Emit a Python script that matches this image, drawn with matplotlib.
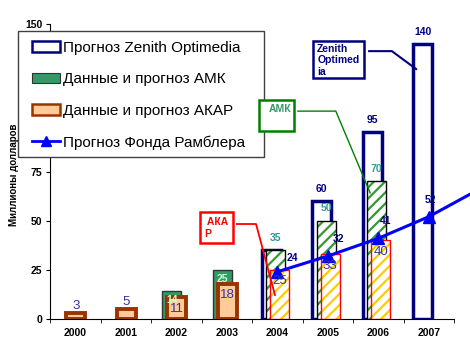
import numpy as np
import matplotlib
matplotlib.use("Agg")
import matplotlib.pyplot as plt
from matplotlib.patches import Rectangle, Patch
from matplotlib.lines import Line2D

plt.rcParams['font.family'] = ['Liberation Sans', 'DejaVu Sans']
plt.rcParams['hatch.linewidth'] = 1.6

# --- data (млн долларов) ---
years = ['2000', '2001', '2002', '2003', '2004', '2005', '2006', '2007']
nan = np.nan
zenith = [nan, nan, nan, nan, 35, 60, 95, 140]
zenith_labeled = [False, False, False, False, False, True, True, True]
amk_fact = [nan, nan, 14, 25, nan, nan, nan, nan]
amk_prog = [nan, nan, nan, nan, 35, 50, 70, nan]
akar_fact = [3, 5, 11, 18, nan, nan, nan, nan]
akar_prog = [nan, nan, nan, nan, 25, 33, 40, nan]
rambler = [nan, nan, nan, nan, 24, 32, 41, 52]
rambler_2008 = 66  # line continues past the right edge

# label offsets for the Rambler points (points)
rambler_offsets = [(11, 10), (7.5, 12), (5, 12.5), (1, 12)]

NAVY = '#000080'
BLUE = '#0000FF'
GREEN = '#339966'
TEAL = '#339999'
LABEL_BLUE = '#333399'

fig = plt.figure(figsize=(4.7, 3.55), dpi=100)
ax = fig.add_axes([50 / 470, 36 / 355, 404 / 470, 295 / 355])

x = np.arange(len(years))
w = 0.38


def bars(values, offset, **kw):
    v = np.array(values, dtype=float)
    m = ~np.isnan(v)
    return ax.bar(x[m] + offset, v[m], w, **kw), x[m] + offset, v[m]


def hatched(values, offset, hatch_color, edge, z):
    bars(values, offset, facecolor='white', edgecolor=hatch_color,
         linewidth=0, hatch='///', zorder=z)
    return bars(values, offset, fill=False, edgecolor=edge, linewidth=1,
                zorder=z + 0.1)


_, zx, zv = bars(zenith, -0.12, facecolor='white', edgecolor=NAVY,
                 linewidth=2.5, zorder=2)
_, afx, afv = bars(amk_fact, -0.09, facecolor=GREEN, edgecolor='#333333',
                   linewidth=1, zorder=3)
_, apx, apv = hatched(amk_prog, -0.03, '#339933', 'black', 3)
_, kfx, kfv = bars(akar_fact, 0.01, facecolor='#FFCC99', edgecolor='#993300',
                   linewidth=2.8, zorder=4)
_, kpx, kpv = hatched(akar_prog, 0.05, '#FFCC00', '#FF0000', 4)

# Rambler forecast line
r = np.array(rambler, dtype=float)
rm = ~np.isnan(r)
rx = list(x[rm]) + [len(years)]
ry = list(r[rm]) + [rambler_2008]
ax.plot(rx, ry, color=BLUE, lw=2.2, zorder=5, clip_on=False)
ax.plot(x[rm], r[rm], ls='none', marker='^', ms=8, color=BLUE, zorder=5)

# data labels
lbl = dict(textcoords='offset points', ha='center', va='center', zorder=7)
zl = [l for l, v in zip(zenith_labeled, zenith) if not np.isnan(v)]
for xi, v, show in zip(zx, zv, zl):
    if show:
        ax.annotate(f'{v:.0f}', (xi, v), xytext=(0, 8.5), color=NAVY,
                    fontsize=7.5, fontweight='bold', **lbl)
for xi, v in zip(afx, afv):
    ax.annotate(f'{v:.0f}', (xi, v), xytext=(0, -6.5), color='#CCFFCC',
                fontsize=7.5, fontweight='bold', **lbl)
for xi, v in zip(apx, apv):
    ax.annotate(f'{v:.0f}', (xi, v), xytext=(0, 9), color=TEAL,
                fontsize=7.5, fontweight='bold', **lbl)
for xi, v in list(zip(kfx, kfv)) + list(zip(kpx, kpv)):
    dy = 5 if v < 8 else -8.3
    ax.annotate(f'{v:.0f}', (xi, v), xytext=(0, dy), color=LABEL_BLUE,
                fontsize=9.5, **lbl)
for xi, v, off in zip(x[rm], r[rm], rambler_offsets):
    ax.annotate(f'{v:.0f}', (xi, v), xytext=off, color=NAVY,
                fontsize=7.5, fontweight='bold', **lbl)

# axes styling
ax.set_xlim(-0.5, 7.5)
ax.set_ylim(0, 150)
ax.spines[['top', 'right']].set_visible(False)
ax.set_yticks([0, 25, 50, 75, 100, 125, 150])
ax.set_xticks(x)
ax.set_xticklabels(years)
ax.set_xticks(np.arange(-0.5, len(years), 1), minor=True)
ax.tick_params(axis='x', which='major', length=0, pad=6.5)
ax.tick_params(axis='x', which='minor', length=3, direction='out')
ax.tick_params(axis='y', length=3, pad=2.5, direction='out')
for t in ax.get_xticklabels() + ax.get_yticklabels():
    t.set_fontsize(7.5)
    t.set_fontweight('bold')
fig.text(14.5 / 470, 1 - 175 / 355, 'Миллионы долларов', rotation=90,
         ha='center', va='center', fontsize=7, fontweight='bold')

# legend: own frame, then frameless legend inside it
frame = Rectangle((18 / 470, 1 - 157 / 355), 246 / 470, 126 / 355,
                  transform=fig.transFigure, facecolor='white',
                  edgecolor='#404040', linewidth=1, zorder=4.9, clip_on=False)
ax.add_patch(frame)
handles = [
    Patch(facecolor='white', edgecolor=NAVY, linewidth=1.8),
    Patch(facecolor=GREEN, edgecolor='#333333', linewidth=0.8),
    Patch(facecolor='#FFCC99', edgecolor='#993300', linewidth=1.8),
    Line2D([], [], color=BLUE, lw=2, marker='^', ms=7),
]
names = ['Прогноз Zenith Optimedia', 'Данные и прогноз АМК',
         'Данные и прогноз АКАР', 'Прогноз Фонда Рамблера']
leg = ax.legend(handles, names, loc='upper left',
                bbox_to_anchor=(32 / 470, 1 - 41 / 355),
                bbox_transform=fig.transFigure, fontsize=11, frameon=False,
                borderpad=0, labelspacing=1.14, handlelength=1.83,
                handletextpad=0.2, borderaxespad=0)
leg.set_zorder(5)


# callouts (data coordinates)
def callout(x0, y0, x1, y1, color, path, lw=1.0):
    box = Rectangle((x0, y1), x1 - x0, y0 - y1, facecolor='white',
                    edgecolor=color, linewidth=1.8, zorder=6, clip_on=False)
    ax.add_patch(box)
    px, py = zip(*path)
    ax.plot(px, py, color=color, lw=lw, zorder=6, clip_on=False)
    return box


b = callout(2.47, 54.4, 3.12, 38.6, '#FF0000',
            [(3.20, 48.3), (3.58, 48.3), (3.955, 12.2)], lw=1.3)
ax.text(2.55, 52, ' АКА\nР', color='#FF0000', fontsize=7.5,
        fontweight='bold', va='top', ha='left', zorder=7, linespacing=1.25)

b = callout(3.64, 111.3, 4.33, 95.6, '#008000',
            [(4.41, 105.7), (5.16, 105.7), (5.84, 64.1)])
ax.text(4.28, 109.5, 'АМК', color=GREEN, fontsize=7.5, fontweight='bold',
        va='top', ha='right', zorder=7)

b = callout(4.71, 141.3, 5.72, 122.5, NAVY,
            [(5.82, 136.2), (6.27, 136.2), (6.75, 127.1)], lw=1.5)
t = ax.text(4.79, 140, 'Zenith\nOptimed\nia', color=NAVY, fontsize=7.5,
            fontweight='bold', va='top', ha='left', zorder=7,
            linespacing=1.2)
t.set_clip_path(b)

fig.savefig('out.png', dpi=100)
